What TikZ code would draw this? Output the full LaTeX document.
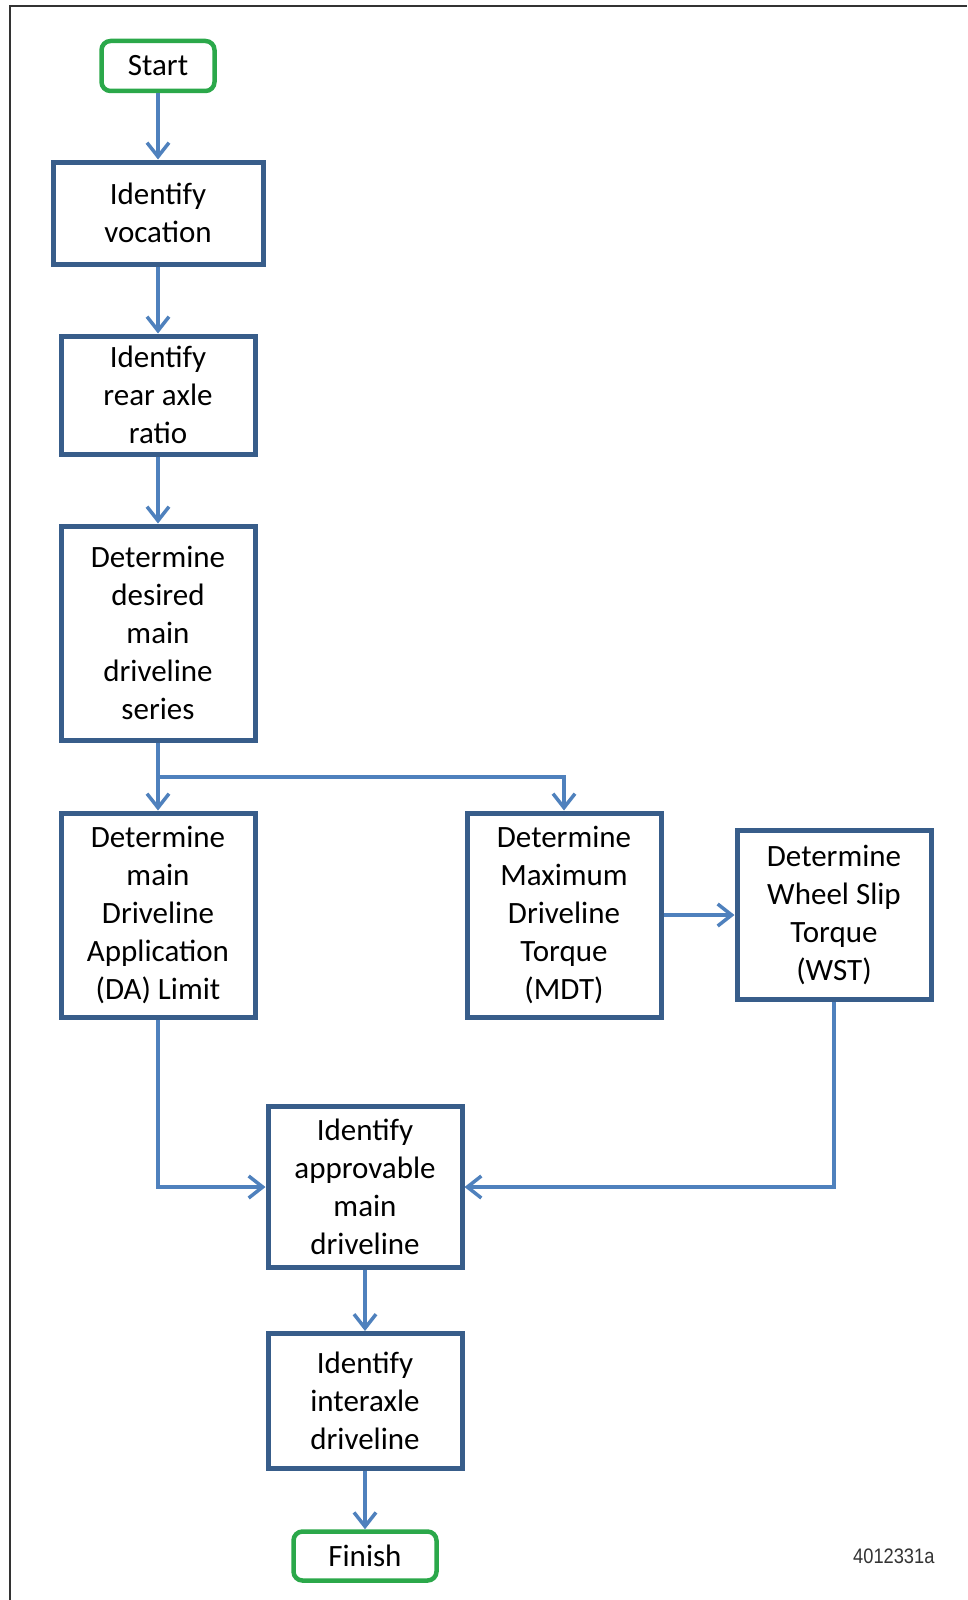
\documentclass[tikz,border=0pt]{standalone}
\usepackage{fontspec}
\setmainfont{Carlito}
\newfontfamily\numfont{Liberation Sans}
\usepackage{xcolor}
\usetikzlibrary{arrows.meta}
\definecolor{boxblue}{RGB}{56,93,138}
\definecolor{lineblue}{RGB}{79,129,189}
\definecolor{termgreen}{RGB}{43,168,74}

\begin{document}
\begin{tikzpicture}[x=1pt,y=-1pt,
  box/.style={draw=boxblue,line width=5pt,minimum width=194pt,inner sep=0pt,align=center,font=\fontsize{31}{38}\selectfont},
  term/.style={draw=termgreen,line width=4.5pt,rounded corners=9pt,inner sep=0pt,font=\fontsize{31}{38}\selectfont},
  flow/.style={draw=lineblue,line width=3.5pt,-{Straight Barb[length=14pt,width=22pt]}}]
\useasboundingbox (0,0) rectangle (967,1600);
\draw[line width=2pt,black!80] (10,1600) -- (10,6) -- (967,6);
\node[term,minimum width=113pt,minimum height=50pt] (start) at (158,66) {Start};
\node[box,minimum width=210pt,minimum height=102pt] (voc) at (158,213) {Identify\\vocation};
\node[box,minimum height=118pt] (axle) at (158,395) {Identify\\rear axle\\ratio};
\node[box,minimum height=214pt] (series) at (158,633) {Determine\\desired\\main\\driveline\\series};
\node[box,minimum height=204pt] (da) at (158,915) {Determine\\main\\Driveline\\Application\\(DA) Limit};
\node[box,minimum height=204pt] (mdt) at (564,915) {Determine\\Maximum\\Driveline\\Torque\\(MDT)};
\node[box,minimum height=169pt] (wst) at (834,915) {Determine\\Wheel Slip\\Torque\\(WST)};
\node[box,minimum height=161pt] (appr) at (365,1187) {Identify\\approvable\\main\\driveline};
\node[box,minimum height=135pt] (inter) at (365,1401) {Identify\\interaxle\\driveline};
\node[term,minimum width=143pt,minimum height=49pt] (finish) at (365,1556) {Finish};
\coordinate (split) at (158,777);
\draw[flow] (start) -- (voc);
\draw[flow] (voc) -- (axle);
\draw[flow] (axle) -- (series);
\draw[flow] (series) -- (da);
\draw[flow] (split) -| (mdt);
\draw[flow] (mdt) -- (wst);
\draw[flow] (da) |- (appr);
\draw[flow] (wst) |- (appr);
\draw[flow] (appr) -- (inter);
\draw[flow] (inter) -- (finish);
\node[anchor=base east,text=black!80,font=\fontsize{21}{25}\numfont] (code) at (938,1563) {\scalebox{0.87}[1]{4012331a}};
\end{tikzpicture}
\end{document}
